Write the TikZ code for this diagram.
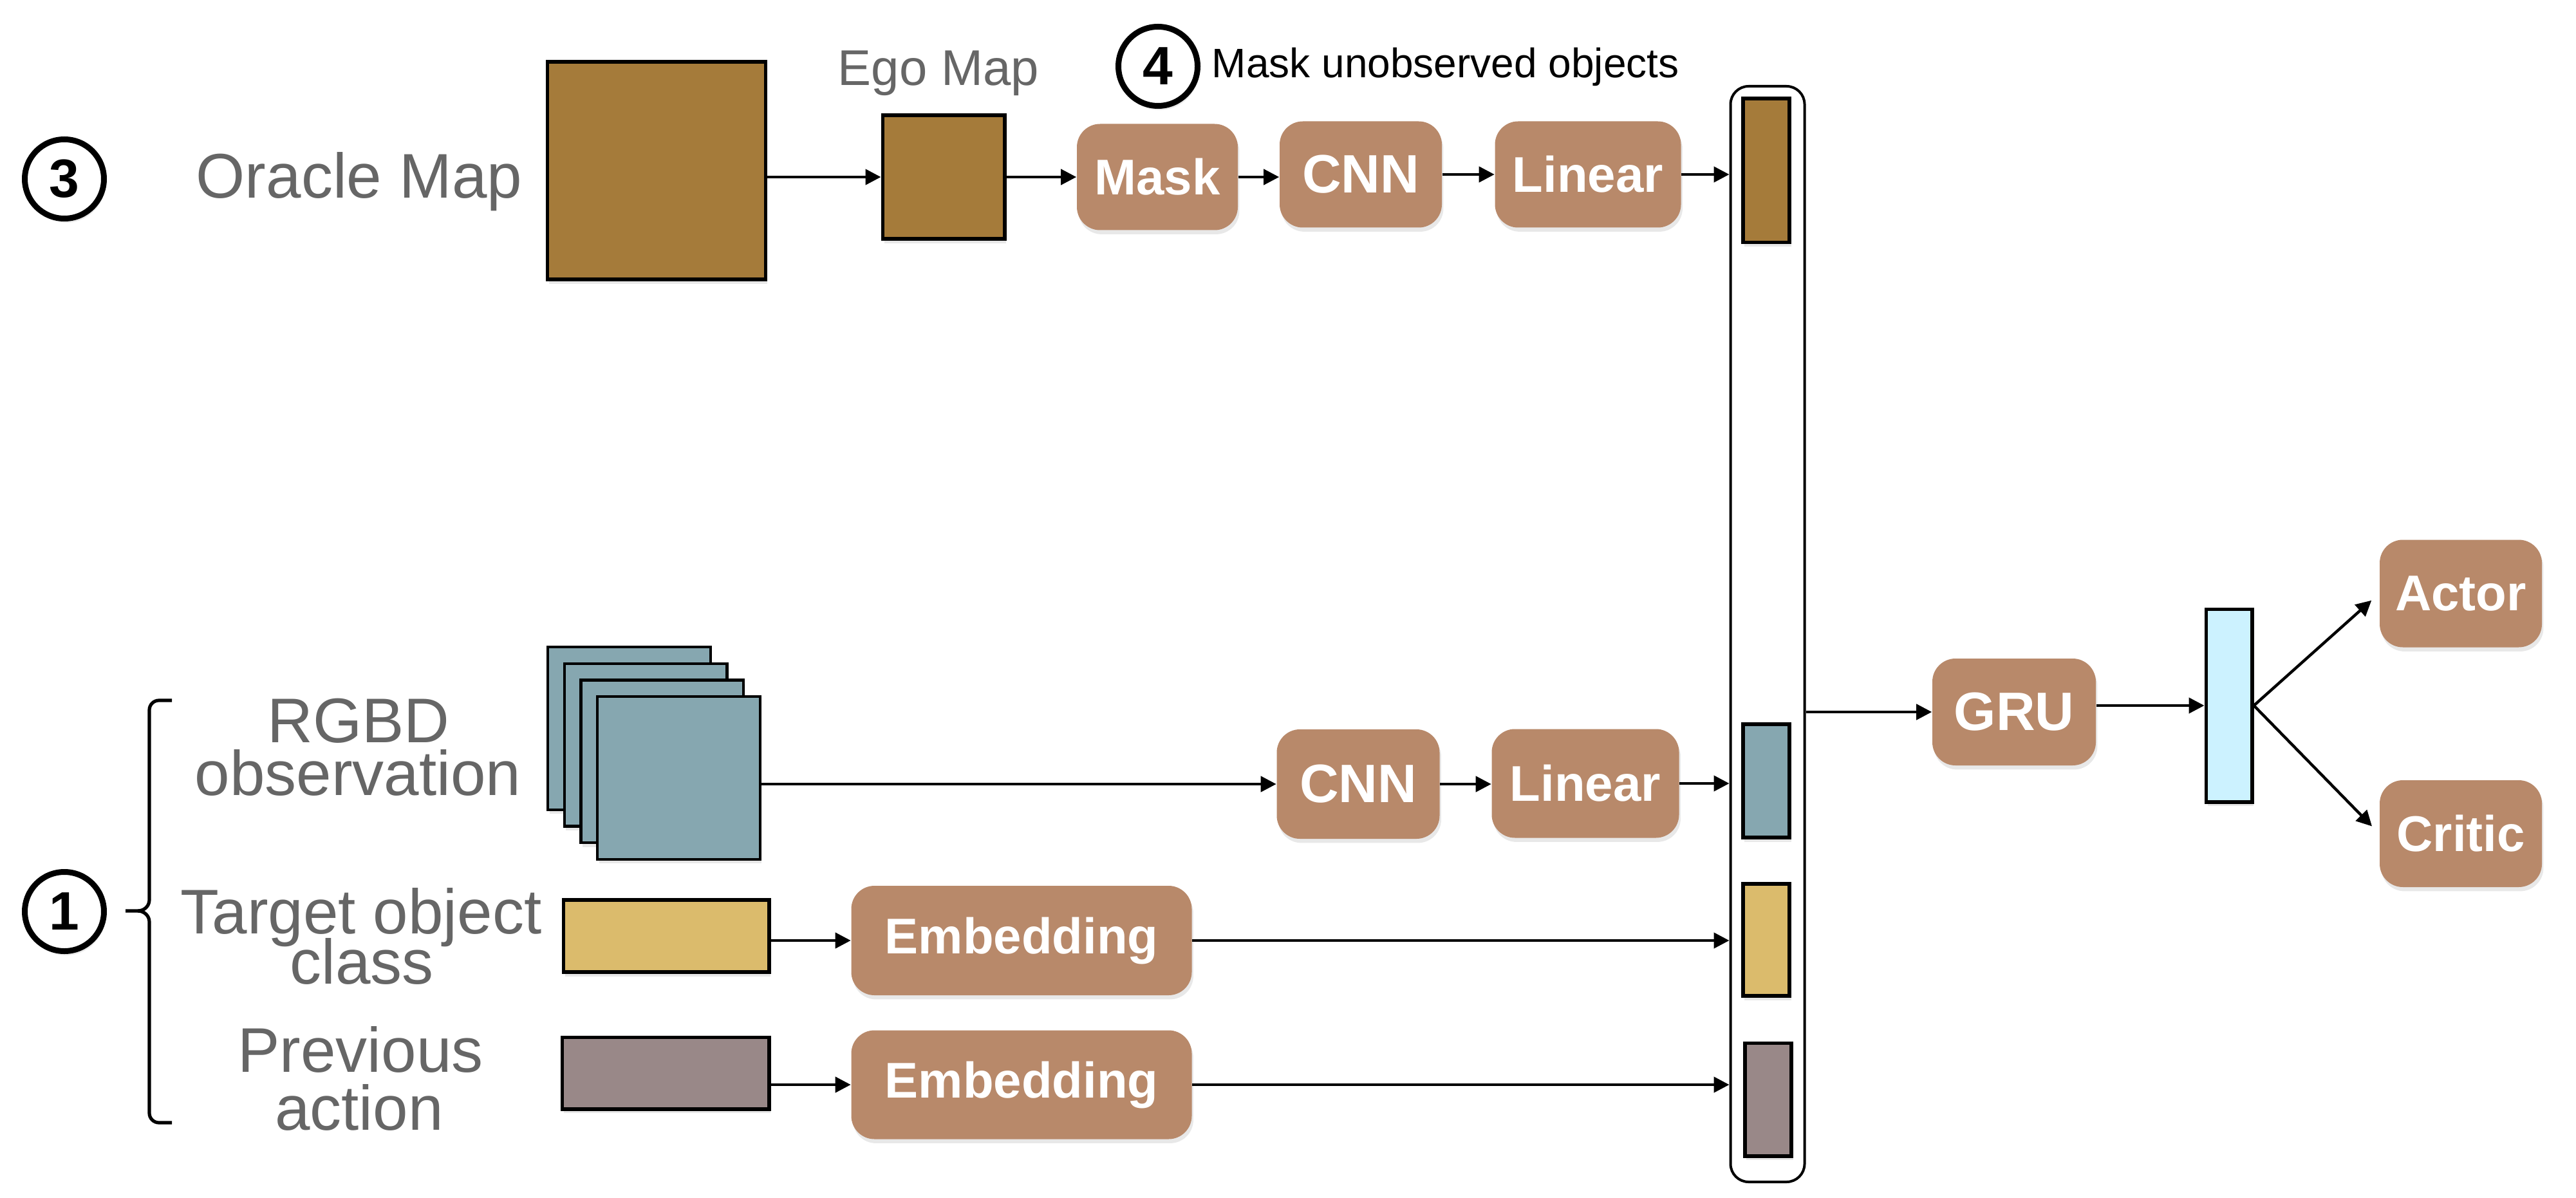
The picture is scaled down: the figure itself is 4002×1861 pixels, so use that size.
\documentclass[tikz,border=0pt]{standalone}
\usepackage{fontspec}
\setmainfont{Liberation Sans}
\usetikzlibrary{arrows.meta,shadows}
\definecolor{mapbrown}{HTML}{A57B3A}
\definecolor{boxbrown}{HTML}{B8896A}
\definecolor{obsteal}{HTML}{86A7B0}
\definecolor{tgtyellow}{HTML}{DBBB6C}
\definecolor{actmauve}{HTML}{998888}
\definecolor{outcyan}{HTML}{CCF2FF}
\definecolor{labelgray}{HTML}{666666}
\begin{document}
\begin{tikzpicture}[x=0.25pt,y=-0.25pt,
  shd/.style={drop shadow={opacity=0.18,shadow xshift=0.6pt,shadow yshift=-1.6pt}},
  layerbox/.style={fill=boxbrown, rounded corners=9pt, text=white, font=\bfseries\fontsize{19.5pt}{23pt}\selectfont, inner sep=0pt, shd},
  blk/.style={draw=black, line width=1.4pt, inner sep=0pt, shd},
  sheet/.style={draw=black, line width=1.1pt, fill=obsteal, inner sep=0pt, minimum size=63.15pt, shd},
  numcirc/.style={circle, draw=black, line width=2.25pt, fill=white, minimum size=30.75pt, inner sep=0pt, font=\bfseries\fontsize{21pt}{24pt}\selectfont, shd},
  glabel/.style={text=labelgray, font=\fontsize{24.5pt}{28pt}\selectfont, inner sep=0pt, anchor=base},
  arr/.style={-{Triangle[length=6pt,width=6pt]}, line width=1.1pt},
]
\useasboundingbox (0,0) rectangle (4002,1861);

% ---------- top branch ----------
\node[numcirc] (c3) at (100,278) {3};
\node[glabel] (oraclelbl) at (558,308) {Oracle Map};
\node[blk, fill=mapbrown, minimum width=84.8pt, minimum height=84.6pt] (oracle) at (1020,265) {};
\node[blk, fill=mapbrown, minimum width=47.35pt, minimum height=48.1pt] (ego) at (1466,275) {};
\node[glabel, font=\fontsize{19.5pt}{23pt}\selectfont] (egolbl) at (1458,133) {Ego Map};
\node[numcirc] (c4) at (1799,103) {4};
\node[inner sep=0pt, anchor=base west, font=\fontsize{16pt}{19pt}\selectfont] (masklbl) at (1882,121) {Mask unobserved objects};
\node[layerbox, minimum width=62.5pt, minimum height=41.25pt] (mask) at (1798,275) {Mask};
\node[layerbox, minimum width=63pt, minimum height=41.25pt, font=\bfseries\fontsize{21pt}{24pt}\selectfont] (cnn1) at (2114,271) {CNN};
\node[layerbox, minimum width=72.25pt, minimum height=41.25pt] (lin1) at (2467,271) {Linear};

% ---------- concatenation ----------
\node[draw=black, line width=1pt, rounded corners=7pt, minimum width=28.75pt, minimum height=425.5pt, inner sep=0pt] (concat) at (2746,985) {};
\node[blk, fill=mapbrown, minimum width=18.1pt, minimum height=55.85pt] (barmap) at (2744,265) {};
\node[blk, fill=obsteal, minimum width=18.1pt, minimum height=44.1pt] (barobs) at (2744,1213) {};
\node[blk, fill=tgtyellow, minimum width=18.1pt, minimum height=43.6pt] (bartgt) at (2744,1460) {};
\node[blk, fill=actmauve, minimum width=18.1pt, minimum height=43.85pt] (baract) at (2747,1708) {};

% ---------- inputs ----------
\node[numcirc] (c1) at (100,1416) {1};
\draw[line width=1.3pt] (267,1088) -- (247,1088) to[out=180,in=90] (232,1103) -- (232,1398)
  to[out=-90,in=0] (214,1415) -- (195,1415);
\draw[line width=1.3pt] (214,1415) to[out=0,in=90] (232,1432) -- (232,1729)
  to[out=-90,in=180] (247,1744) -- (267,1744);

\node[glabel] (rgbdA) at (557,1153) {RGBD};
\node[glabel] (rgbdB) at (556,1235) {observation};
\node[glabel] (tgtA) at (561,1450) {Target object};
\node[glabel] (tgtB) at (562,1528) {class};
\node[glabel] (pactA) at (560,1665) {Previous};
\node[glabel] (pactB) at (558,1755) {action};

\node[sheet] (rgbd1) at (977.4,1131.4) {};
\node[sheet] (rgbd2) at (1003.1,1157.1) {};
\node[sheet] (rgbd3) at (1028.8,1182.8) {};
\node[sheet] (rgbd4) at (1054.5,1208.5) {};
\node[blk, fill=tgtyellow, minimum width=79.85pt, minimum height=28.1pt] (tgt) at (1035,1454) {};
\node[blk, fill=actmauve, minimum width=80.35pt, minimum height=27.85pt] (pact) at (1034,1667) {};

\node[layerbox, minimum width=63.25pt, minimum height=42.5pt, font=\bfseries\fontsize{21pt}{24pt}\selectfont] (cnn2) at (2110,1218) {CNN};
\node[layerbox, minimum width=72.75pt, minimum height=42.25pt] (lin2) at (2463,1217) {Linear};
\node[layerbox, minimum width=132.25pt, minimum height=42.5pt] (emb1) at (1587,1461) {Embedding};
\node[layerbox, minimum width=132.25pt, minimum height=42.25pt] (emb2) at (1587,1685) {Embedding};

% ---------- output ----------
\node[layerbox, minimum width=63.5pt, minimum height=41.5pt, font=\bfseries\fontsize{21pt}{24pt}\selectfont] (gru) at (3129,1106) {GRU};
\node[blk, fill=outcyan, minimum width=17.85pt, minimum height=74.85pt] (cyan) at (3463,1096) {};
\node[layerbox, minimum width=63pt, minimum height=41.75pt] (actor) at (3823,922) {Actor};
\node[layerbox, minimum width=63pt, minimum height=41.5pt] (critic) at (3823,1295) {Critic};

% ---------- connectors ----------
\draw[arr] (oracle.east |- ego.west) -- (ego.west);
\draw[arr] (ego.east) -- (mask.west);
\draw[arr] (mask.east) -- (mask.east -| cnn1.west);
\draw[arr] (cnn1.east) -- (lin1.west);
\draw[arr] (lin1.east) -- (lin1.east -| concat.west);

\draw[arr] (rgbd4.east |- cnn2.west) -- (cnn2.west);
\draw[arr] (cnn2.east) -- (cnn2.east -| lin2.west);
\draw[arr] (lin2.east) -- (lin2.east -| concat.west);
\draw[arr] (tgt.east |- emb1.west) -- (emb1.west);
\draw[arr] (emb1.east) -- (emb1.east -| concat.west);
\draw[arr] (pact.east |- emb2.west) -- (emb2.west);
\draw[arr] (emb2.east) -- (emb2.east -| concat.west);

\draw[arr] (concat.east |- gru.west) -- (gru.west);
\draw[arr] (gru.east |- cyan.west) -- (cyan.west);
\draw[arr, shorten >=4pt] (cyan.east) -- (actor.west);
\draw[arr, shorten >=4pt] (cyan.east) -- (critic.west);
\end{tikzpicture}
\end{document}
